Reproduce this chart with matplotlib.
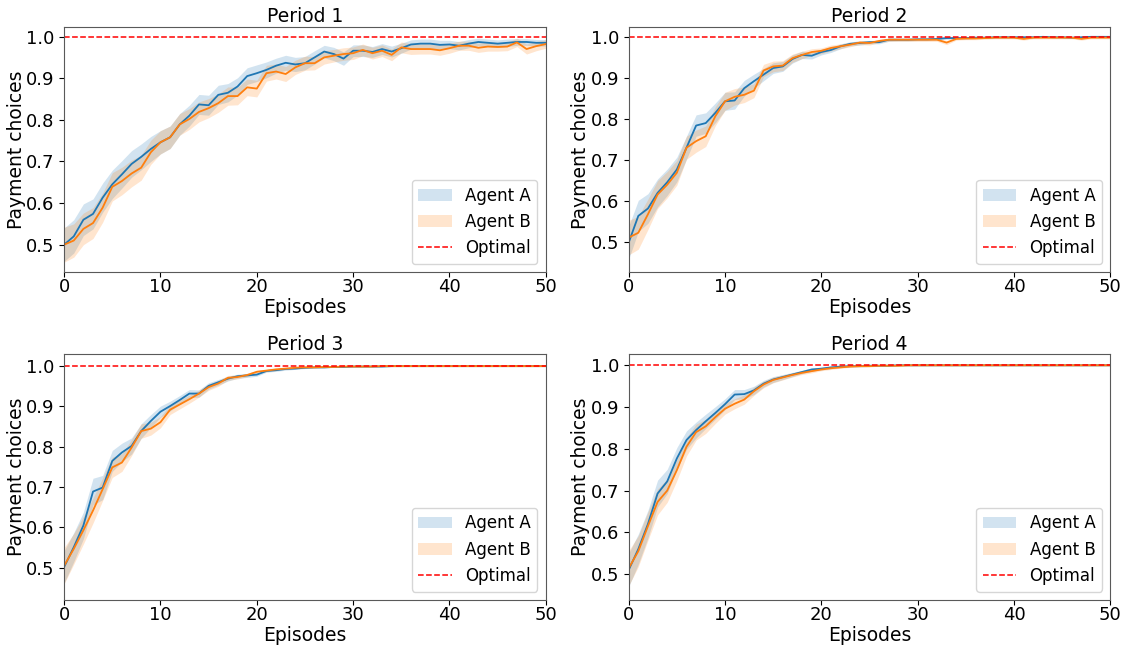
import numpy as np
import matplotlib
matplotlib.use("Agg")
import matplotlib.pyplot as plt

# ---------------- data ----------------
episodes = np.arange(51)
periods = ["Period 1", "Period 2", "Period 3", "Period 4"]

p1_agent_a = [0.500, 0.520, 0.560, 0.574, 0.613, 0.645, 0.669, 0.694, 0.711, 0.730,
              0.746, 0.758, 0.789, 0.810, 0.837, 0.835, 0.860, 0.865, 0.880, 0.905,
              0.912, 0.920, 0.930, 0.937, 0.933, 0.936, 0.950, 0.964, 0.958, 0.947,
              0.966, 0.966, 0.963, 0.970, 0.964, 0.972, 0.981, 0.983, 0.983, 0.980,
              0.981, 0.978, 0.983, 0.987, 0.985, 0.983, 0.985, 0.987, 0.987, 0.985, 0.985]
p1_agent_b = [0.500, 0.510, 0.538, 0.552, 0.589, 0.639, 0.653, 0.671, 0.685, 0.722,
              0.746, 0.758, 0.789, 0.802, 0.819, 0.828, 0.840, 0.857, 0.857, 0.878,
              0.875, 0.912, 0.916, 0.910, 0.926, 0.936, 0.936, 0.950, 0.954, 0.958,
              0.960, 0.968, 0.960, 0.966, 0.956, 0.974, 0.970, 0.970, 0.970, 0.967,
              0.972, 0.978, 0.978, 0.973, 0.976, 0.975, 0.976, 0.986, 0.970, 0.977, 0.982]
p1_spread_a = [0.040, 0.040, 0.038, 0.036, 0.035, 0.034, 0.033, 0.032, 0.031, 0.030,
               0.028, 0.027, 0.026, 0.025, 0.024, 0.024, 0.023, 0.022, 0.021, 0.020,
               0.020, 0.019, 0.018, 0.018, 0.017, 0.016, 0.016, 0.015, 0.016, 0.016,
               0.014, 0.014, 0.013, 0.013, 0.013, 0.012, 0.011, 0.011, 0.011, 0.011,
               0.010, 0.010, 0.010, 0.009, 0.009, 0.009, 0.009, 0.008, 0.008, 0.008, 0.008]
p1_spread_b = [0.042, 0.040, 0.038, 0.037, 0.035, 0.034, 0.033, 0.032, 0.030, 0.029,
               0.028, 0.027, 0.026, 0.025, 0.024, 0.023, 0.022, 0.022, 0.021, 0.020,
               0.020, 0.019, 0.018, 0.018, 0.017, 0.017, 0.016, 0.016, 0.015, 0.015,
               0.015, 0.014, 0.014, 0.014, 0.014, 0.013, 0.013, 0.012, 0.012, 0.012,
               0.012, 0.011, 0.011, 0.011, 0.011, 0.010, 0.010, 0.010, 0.012, 0.011, 0.010]

p2_agent_a = [0.499, 0.564, 0.582, 0.620, 0.646, 0.677, 0.730, 0.784, 0.790, 0.815,
              0.843, 0.845, 0.875, 0.892, 0.908, 0.924, 0.928, 0.946, 0.956, 0.954,
              0.963, 0.968, 0.977, 0.983, 0.985, 0.987, 0.987, 0.993, 0.993, 0.993,
              0.994, 0.994, 0.995, 0.997, 0.997, 0.997, 0.998, 0.998, 0.999, 0.999,
              0.999, 0.999, 0.999, 1.000, 0.999, 0.999, 0.998, 0.999, 1.000, 1.000, 1.000]
p2_agent_b = [0.511, 0.523, 0.568, 0.616, 0.640, 0.669, 0.730, 0.746, 0.758, 0.807,
              0.843, 0.854, 0.859, 0.869, 0.918, 0.928, 0.930, 0.948, 0.956, 0.963,
              0.966, 0.973, 0.977, 0.981, 0.986, 0.985, 0.990, 0.993, 0.993, 0.993,
              0.993, 0.993, 0.993, 0.986, 0.995, 0.996, 0.996, 0.997, 0.998, 0.998,
              0.998, 0.995, 0.998, 0.998, 0.998, 0.998, 0.998, 0.995, 0.998, 0.998, 0.998]
p2_spread_a = [0.040, 0.038, 0.036, 0.034, 0.032, 0.030, 0.028, 0.026, 0.025, 0.024,
               0.022, 0.021, 0.019, 0.017, 0.015, 0.013, 0.012, 0.010, 0.009, 0.008,
               0.007, 0.006, 0.006, 0.005, 0.005, 0.004, 0.004, 0.004, 0.003, 0.003,
               0.003, 0.003, 0.003, 0.003, 0.003, 0.003, 0.002, 0.002, 0.002, 0.002,
               0.002, 0.002, 0.002, 0.002, 0.002, 0.002, 0.002, 0.002, 0.002, 0.002, 0.002]
p2_spread_b = [0.042, 0.040, 0.037, 0.034, 0.032, 0.030, 0.028, 0.027, 0.025, 0.023,
               0.022, 0.020, 0.019, 0.017, 0.015, 0.013, 0.012, 0.010, 0.009, 0.008,
               0.007, 0.007, 0.006, 0.005, 0.005, 0.005, 0.004, 0.004, 0.004, 0.004,
               0.004, 0.004, 0.004, 0.005, 0.003, 0.003, 0.003, 0.003, 0.003, 0.003,
               0.003, 0.003, 0.003, 0.003, 0.003, 0.003, 0.003, 0.003, 0.003, 0.003, 0.003]

p3_agent_a = [0.502, 0.551, 0.605, 0.689, 0.699, 0.765, 0.786, 0.802, 0.839, 0.864,
              0.887, 0.901, 0.916, 0.932, 0.932, 0.951, 0.960, 0.969, 0.975, 0.977,
              0.979, 0.988, 0.990, 0.993, 0.994, 0.996, 0.997, 0.997, 0.998, 0.998,
              0.999, 0.999, 0.999, 0.999, 1.000, 1.000, 1.000, 1.000, 1.000, 1.000,
              1.000, 1.000, 1.000, 1.000, 1.000, 1.000, 1.000, 1.000, 1.000, 1.000, 1.000]
p3_agent_b = [0.505, 0.547, 0.593, 0.642, 0.695, 0.749, 0.761, 0.798, 0.839, 0.845,
              0.861, 0.892, 0.905, 0.918, 0.932, 0.948, 0.957, 0.971, 0.973, 0.978,
              0.986, 0.989, 0.992, 0.994, 0.996, 0.997, 0.997, 0.998, 0.998, 0.999,
              0.999, 0.999, 0.999, 1.000, 1.000, 1.000, 1.000, 1.000, 1.000, 1.000,
              1.000, 1.000, 1.000, 1.000, 1.000, 1.000, 1.000, 1.000, 1.000, 1.000, 1.000]
p3_spread_a = [0.040, 0.036, 0.033, 0.033, 0.030, 0.026, 0.023, 0.020, 0.018, 0.016,
               0.014, 0.012, 0.011, 0.010, 0.009, 0.008, 0.007, 0.006, 0.005, 0.005,
               0.004, 0.003, 0.003, 0.003, 0.002, 0.002, 0.002, 0.002, 0.001, 0.001,
               0.001, 0.001, 0.001, 0.001, 0.001, 0.001, 0.001, 0.001, 0.001, 0.001,
               0.001, 0.001, 0.001, 0.001, 0.001, 0.001, 0.001, 0.001, 0.001, 0.001, 0.001]
p3_spread_b = [0.045, 0.038, 0.034, 0.031, 0.028, 0.025, 0.022, 0.020, 0.018, 0.016,
               0.014, 0.012, 0.011, 0.010, 0.009, 0.008, 0.007, 0.006, 0.005, 0.004,
               0.004, 0.003, 0.003, 0.002, 0.002, 0.002, 0.002, 0.002, 0.001, 0.001,
               0.001, 0.001, 0.001, 0.001, 0.001, 0.001, 0.001, 0.001, 0.001, 0.001,
               0.001, 0.001, 0.001, 0.001, 0.001, 0.001, 0.001, 0.001, 0.001, 0.001, 0.001]

p4_agent_a = [0.510, 0.560, 0.620, 0.693, 0.722, 0.777, 0.821, 0.845, 0.866, 0.886,
              0.907, 0.930, 0.931, 0.940, 0.956, 0.966, 0.972, 0.978, 0.984, 0.990,
              0.992, 0.995, 0.997, 0.998, 0.998, 0.999, 0.999, 0.999, 1.000, 1.000,
              1.000, 1.000, 1.000, 1.000, 1.000, 1.000, 1.000, 1.000, 1.000, 1.000,
              1.000, 1.000, 1.000, 1.000, 1.000, 1.000, 1.000, 1.000, 1.000, 1.000, 1.000]
p4_agent_b = [0.514, 0.555, 0.615, 0.673, 0.700, 0.749, 0.805, 0.840, 0.854, 0.876,
              0.896, 0.908, 0.918, 0.938, 0.954, 0.965, 0.971, 0.977, 0.982, 0.986,
              0.990, 0.993, 0.995, 0.997, 0.998, 0.998, 0.999, 0.999, 0.999, 1.000,
              1.000, 1.000, 1.000, 1.000, 1.000, 1.000, 1.000, 1.000, 1.000, 1.000,
              1.000, 1.000, 1.000, 1.000, 1.000, 1.000, 1.000, 1.000, 1.000, 1.000, 1.000]
p4_spread_a = [0.040, 0.036, 0.033, 0.032, 0.029, 0.026, 0.022, 0.019, 0.017, 0.015,
               0.013, 0.012, 0.011, 0.010, 0.008, 0.007, 0.006, 0.005, 0.004, 0.004,
               0.003, 0.003, 0.002, 0.002, 0.002, 0.002, 0.001, 0.001, 0.001, 0.001,
               0.001, 0.001, 0.001, 0.001, 0.001, 0.001, 0.001, 0.001, 0.001, 0.001,
               0.001, 0.001, 0.001, 0.001, 0.001, 0.001, 0.001, 0.001, 0.001, 0.001, 0.001]
p4_spread_b = [0.042, 0.037, 0.034, 0.031, 0.028, 0.025, 0.022, 0.019, 0.017, 0.015,
               0.013, 0.012, 0.011, 0.010, 0.008, 0.007, 0.006, 0.005, 0.004, 0.004,
               0.003, 0.003, 0.002, 0.002, 0.002, 0.002, 0.001, 0.001, 0.001, 0.001,
               0.001, 0.001, 0.001, 0.001, 0.001, 0.001, 0.001, 0.001, 0.001, 0.001,
               0.001, 0.001, 0.001, 0.001, 0.001, 0.001, 0.001, 0.001, 0.001, 0.001, 0.001]

agent_a = [p1_agent_a, p2_agent_a, p3_agent_a, p4_agent_a]
agent_b = [p1_agent_b, p2_agent_b, p3_agent_b, p4_agent_b]
spread_a = [p1_spread_a, p2_spread_a, p3_spread_a, p4_spread_a]
spread_b = [p1_spread_b, p2_spread_b, p3_spread_b, p4_spread_b]
optimal = 1.0

# y-limits of each panel as seen in the picture
ylims = [(0.434, 1.024), (0.427, 1.025), (0.420, 1.029), (0.438, 1.026)]

# ---------------- plot ----------------
azul = "#1f77b4"
laranja = "#ff7f0e"
tam_ticks = 13
tam_rotulo = 13.5
tam_legenda = 12

fig, axs = plt.subplots(2, 2, figsize=(11.25, 6.48), dpi=100)
fig.subplots_adjust(left=0.057, right=0.987, bottom=0.074, top=0.959,
                    wspace=0.172, hspace=0.335)

for i, ax in enumerate(axs.flat):
    a = np.array(agent_a[i])
    b = np.array(agent_b[i])
    sa = np.array(spread_a[i])
    sb = np.array(spread_b[i])
    ax.plot(episodes, a, color=azul, lw=1.3)
    ax.plot(episodes, b, color=laranja, lw=1.3)
    ax.fill_between(episodes, a - sa, a + sa, color=azul, alpha=0.2, lw=0, label="Agent A")
    ax.fill_between(episodes, b - sb, b + sb, color=laranja, alpha=0.2, lw=0, label="Agent B")
    ax.axhline(optimal, color="red", ls="--", lw=1.1, label="Optimal")

    ax.set_xlim(0, 50)
    ax.set_ylim(*ylims[i])
    ax.set_xticks([0, 10, 20, 30, 40, 50])
    ax.set_yticks([0.5, 0.6, 0.7, 0.8, 0.9, 1.0])
    ax.tick_params(labelsize=tam_ticks)
    ax.tick_params(axis="x", pad=1)
    for s in ax.spines.values():
        s.set_color("0.35")
    ax.set_title(periods[i], fontsize=tam_rotulo, pad=3)
    ax.set_xlabel("Episodes", fontsize=tam_rotulo, labelpad=1)
    ax.set_ylabel("Payment choices", fontsize=tam_rotulo, labelpad=0)
    ax.legend(loc="lower right", fontsize=tam_legenda)

fig.savefig("out.png", dpi=100)
